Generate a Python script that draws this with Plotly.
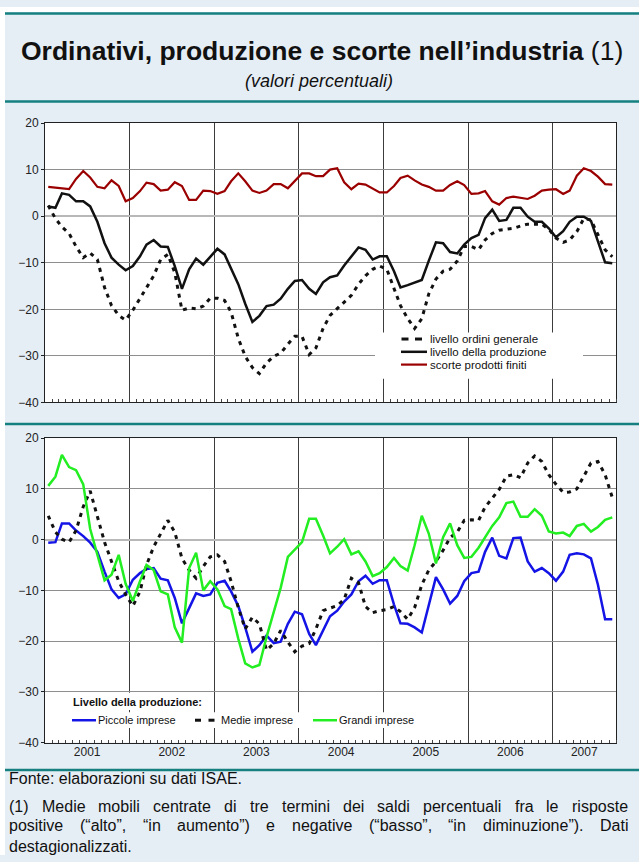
import plotly.graph_objects as go
import pandas as pd

W, H = 639, 862

# ---------------- data (monthly, Jan 2001 - Sep 2007) ----------------
months = pd.date_range("2001-01-01", periods=81, freq="MS") + pd.Timedelta(days=14)

ordini_generale = [2.3, -0.5, -2.3, -3.7, -6.5, -8.9, -7.9, -9.3, -15.3, -19.2, -21.3, -22.3,
                   -20.2, -17.7, -15.6, -12.8, -9.3, -8.2, -12.1, -20.2, -19.7, -19.9, -19.3, -17.6,
                   -17.6, -18.1, -20.6, -26.2, -30.1, -32.5, -33.8, -31.5, -30.1, -29.4, -27.5, -25.8,
                   -25.8, -29.7, -28.3, -24.1, -21.3, -19.9, -18.5, -17.0, -14.6, -12.8, -11.4, -10.7,
                   -11.4, -15.6, -19.2, -22.0, -24.1, -22.0, -16.7, -13.5, -11.8, -11.4, -9.6, -6.5,
                   -6.5, -7.2, -5.1, -3.7, -3.0, -2.8, -2.6, -2.1, -1.7, -1.7, -1.7, -2.8,
                   -4.7, -5.6, -5.1, -3.3, -0.5, -0.8, -4.0, -7.2, -8.7]

produzione = [2.1, 1.8, 4.9, 4.6, 3.2, 3.2, 2.1, -1.2, -5.8, -8.9, -10.4, -11.6,
              -10.7, -8.6, -6.1, -5.1, -6.5, -6.6, -10.7, -15.6, -11.4, -9.1, -10.4, -8.7,
              -7.0, -8.2, -11.1, -14.6, -18.8, -22.7, -21.4, -19.3, -19.0, -17.7, -15.6, -13.9,
              -13.7, -15.6, -16.7, -14.2, -13.1, -12.7, -10.6, -8.6, -6.7, -7.2, -9.3, -8.6,
              -8.6, -11.8, -15.3, -14.8, -14.2, -13.7, -9.6, -5.6, -5.8, -7.7, -8.0, -6.1,
              -4.7, -4.0, -0.4, 1.4, -1.0, -0.8, 1.8, 1.8, -0.1, -1.2, -1.2, -2.6,
              -4.5, -3.2, -1.2, -0.1, -0.1, -1.0, -5.4, -9.9, -10.1]

scorte = [6.3, 6.1, 6.0, 5.8, 8.0, 9.7, 8.3, 6.3, 6.0, 7.7, 6.5, 3.2,
          3.9, 5.4, 7.2, 6.9, 5.5, 5.7, 7.3, 6.5, 3.5, 3.5, 5.5, 5.4,
          4.8, 5.4, 7.5, 9.2, 7.5, 5.5, 5.0, 5.5, 6.9, 6.9, 6.0, 7.5,
          9.2, 9.2, 8.6, 8.6, 10.0, 10.3, 7.3, 5.8, 7.0, 6.8, 6.0, 5.1,
          5.1, 6.5, 8.2, 8.7, 7.7, 6.8, 6.3, 5.5, 5.5, 6.7, 7.5, 6.7,
          4.8, 4.9, 5.4, 3.2, 2.5, 3.9, 4.2, 3.9, 3.7, 4.4, 5.5, 5.7,
          5.8, 4.8, 5.5, 8.7, 10.3, 9.7, 8.5, 6.9, 6.8]

piccole = [-0.6, -0.5, 3.2, 3.2, 1.8, 0.7, -0.6, -2.4, -6.3, -9.8, -11.5, -10.8,
           -7.9, -6.6, -5.8, -5.6, -7.7, -8.0, -11.5, -16.5, -13.5, -10.6, -11.1, -10.8,
           -8.5, -8.1, -10.2, -13.1, -17.3, -22.1, -20.8, -18.9, -20.4, -20.1, -16.6, -14.2,
           -14.7, -18.6, -20.8, -17.9, -15.1, -14.0, -12.2, -10.8, -8.2, -7.1, -8.7, -8.0,
           -8.0, -12.8, -16.5, -16.6, -17.3, -18.3, -12.8, -7.4, -9.8, -12.6, -11.1, -8.2,
           -6.6, -6.3, -2.4, 0.4, -3.2, -3.7, 0.3, 0.4, -4.3, -6.3, -5.6, -6.6,
           -8.1, -6.3, -3.0, -2.7, -2.9, -3.7, -8.9, -15.7, -15.7]

medie = [4.7, 1.5, 0.1, -0.5, 1.8, 6.5, 9.6, 4.7, -0.5, -4.3, -8.2, -10.8,
         -13.1, -10.2, -5.0, -1.4, 1.2, 3.8, 1.5, -3.7, -6.0, -7.6, -5.3, -3.4,
         -3.0, -4.3, -8.2, -13.4, -17.6, -15.3, -16.6, -21.8, -20.5, -17.9, -20.2, -22.1,
         -21.0, -20.5, -17.6, -14.0, -13.5, -13.0, -11.8, -7.6, -8.5, -13.2, -14.4, -14.0,
         -13.8, -13.2, -14.2, -15.7, -13.4, -8.9, -6.0, -4.3, -2.1, 0.4, 1.5, 3.8,
         3.9, 3.8, 6.4, 8.3, 9.9, 12.5, 12.8, 12.2, 15.1, 16.5, 15.4, 12.8,
         10.9, 9.3, 9.4, 10.0, 12.5, 15.1, 15.4, 12.8, 8.3]

grandi = [10.6, 12.4, 16.7, 14.3, 13.7, 10.9, 2.1, -3.0, -8.0, -6.9, -3.0, -8.7,
          -12.1, -8.2, -5.0, -6.0, -10.2, -10.8, -17.3, -20.3, -5.6, -2.6, -10.0, -8.2,
          -9.8, -13.1, -13.7, -19.5, -24.4, -25.2, -24.7, -19.2, -14.4, -9.5, -3.4, -1.9,
          -0.5, 4.1, 4.1, 0.8, -2.7, -1.4, 0.1, -2.9, -2.3, -4.3, -7.2, -6.6,
          -5.4, -3.6, -5.2, -6.1, -1.1, 4.7, 1.2, -4.7, 0.5, 3.2, -1.1, -3.6,
          -3.4, -1.6, 0.5, 2.7, 4.4, 7.2, 7.5, 4.5, 4.5, 6.0, 4.7, 1.6,
          1.2, 1.4, 0.7, 2.7, 3.1, 1.6, 2.5, 3.9, 4.4]

y_ticks = [-40, -30, -20, -10, 0, 10, 20]
year_labels = ["2001", "2002", "2003", "2004", "2005", "2006", "2007"]
year_label_dates = ["2001-07-02", "2002-07-02", "2003-07-02", "2004-07-02",
                    "2005-07-02", "2006-07-02", "2007-05-17"]

top_names = ["livello ordini generale", "livello della produzione", "scorte prodotti finiti"]
bottom_title = "Livello della produzione:"
bottom_names = ["Piccole imprese", "Medie imprese", "Grandi imprese"]

# ---------------- styles ----------------
FONT = "Liberation Sans, Arial, sans-serif"
BG = "#E6EEF5"
TEAL = "#15807F"
C_BLACK = "#111111"
C_RED = "#9B0000"
C_BLUE = "#1414E6"
C_GREEN = "#22EE22"
DASH = "4px,5px"

def px(x):
    return x / W

def py(y):
    return 1 - y / H

XL, XR = 45, 616
TOP_T, TOP_B = 118, 402
BOT_T, BOT_B = 438.3, 747.7
X_RANGE = ["2001-01-01", "2007-10-01"]

fig = go.Figure()

def add(y, xa, ya, color, width, dash=None, name=""):
    fig.add_trace(go.Scatter(x=months, y=y, mode="lines", name=name, showlegend=False,
                             line=dict(color=color, width=width, dash=dash),
                             xaxis=xa, yaxis=ya, hoverinfo="skip"))

add(ordini_generale, "x", "y", C_BLACK, 3, DASH, top_names[0])
add(produzione, "x", "y", C_BLACK, 2.5, None, top_names[1])
add(scorte, "x", "y", C_RED, 2.2, None, top_names[2])
add(piccole, "x2", "y2", C_BLUE, 2.5, None, bottom_names[0])
add(medie, "x2", "y2", C_BLACK, 3, DASH, bottom_names[1])
add(grandi, "x2", "y2", C_GREEN, 2.5, None, bottom_names[2])
# carrier trace (no marks) for the year-label axis
fig.add_trace(go.Scatter(x=[], y=[], xaxis="x3", yaxis="y2", showlegend=False, hoverinfo="skip"))

xcommon = dict(type="date", range=X_RANGE, tick0="2001-01-01", dtick="M12",
               showgrid=True, gridcolor="#3c3c3c", gridwidth=1,
               showline=True, linecolor="#222", linewidth=1, mirror=True, zeroline=False,
               ticks="", fixedrange=True, domain=[px(XL), px(XR)], showticklabels=False,
               minor=dict(dtick="M1", tick0="2001-01-01", ticks="inside", ticklen=3,
                          tickcolor="#444", tickwidth=1, showgrid=False))
ycommon = dict(range=[-40, 20], tickvals=y_ticks, showgrid=True, gridcolor="#8e8e8e", gridwidth=1,
               showline=True, linecolor="#222", linewidth=1, mirror=True,
               ticks="outside", ticklen=3, tickcolor="#222",
               tickfont=dict(family=FONT, size=12, color="#222"),
               zeroline=True, zerolinecolor="#b8b8b8", zerolinewidth=2, fixedrange=True)

fig.update_layout(
    width=W, height=H, autosize=False,
    margin=dict(l=0, r=0, t=0, b=0),
    paper_bgcolor=BG, plot_bgcolor="white",
    font=dict(family=FONT, color="#111"),
    showlegend=False,
    xaxis=dict(xcommon, anchor="y"),
    yaxis=dict(ycommon, anchor="x", domain=[py(TOP_B), py(TOP_T)]),
    xaxis2=dict(xcommon, anchor="y2"),
    yaxis2=dict(ycommon, anchor="x2", domain=[py(BOT_B), py(BOT_T)]),
    xaxis3=dict(type="date", range=X_RANGE, overlaying="x2", anchor="y2", side="bottom",
                tickvals=year_label_dates, ticktext=year_labels, showgrid=False, showline=False,
                zeroline=False, ticks="", fixedrange=True,
                tickfont=dict(family=FONT, size=12, color="#222")),
)

shapes = []
# white outer margin strips
shapes.append(dict(type="rect", xref="paper", yref="paper", x0=0, x1=px(5), y0=0, y1=1,
                   fillcolor="white", line=dict(width=0), layer="above"))
shapes.append(dict(type="rect", xref="paper", yref="paper", x0=0, x1=1, y0=py(5), y1=1,
                   fillcolor="white", line=dict(width=0), layer="above"))
# teal separators
for yy in [6.5, 96, 424, 775.5]:
    shapes.append(dict(type="line", xref="paper", yref="paper", x0=px(5), x1=1, y0=py(yy), y1=py(yy),
                       line=dict(color=TEAL, width=2.5), layer="above"))

def rect(x0, y0, x1, y1):
    shapes.append(dict(type="rect", xref="paper", yref="paper", x0=px(x0), x1=px(x1),
                       y0=py(y1), y1=py(y0), fillcolor="white", line=dict(width=0), layer="above"))

def seg(x0, x1, y, color, width):
    shapes.append(dict(type="line", xref="paper", yref="paper", x0=px(x0), x1=px(x1),
                       y0=py(y), y1=py(y), line=dict(color=color, width=width), layer="above"))

# top legend (rows spread slightly so the labels do not collide)
ROWS = [337.5, 350.5, 363.5]
rect(375, 331, 583, 378)
seg(401.5, 408.5, ROWS[0], C_BLACK, 3)
seg(415, 422, ROWS[0], C_BLACK, 3)
seg(401, 427, ROWS[1], C_BLACK, 2.5)
seg(401, 427, ROWS[2], C_RED, 2.2)
# bottom legend
rect(70, 697, 203, 714.5)
rect(70, 717, 418, 733)
seg(72, 96, 725, C_BLUE, 2.5)
seg(195, 201, 725, C_BLACK, 3)
seg(208.5, 214.5, 725, C_BLACK, 3)
seg(313, 337, 725, C_GREEN, 2.5)

annotations = []

def text(x, y, s, size, anchor="left", color="#111", bold=False, italic=False):
    annotations.append(dict(xref="paper", yref="paper", x=px(x), y=py(y), text=(f"<b>{s}</b>" if bold else s),
                            showarrow=False, xanchor=anchor, yanchor="middle", borderpad=0,
                            font=dict(family=FONT, size=size, color=color,
                                      style="italic" if italic else "normal")))

for r, name in zip(ROWS, top_names):
    text(429, r, name, 11.5)
text(72, 706, bottom_title, 11, bold=True)
text(97, 725, bottom_names[0], 11)
text(220, 725, bottom_names[1], 11)
text(338, 725, bottom_names[2], 11)

# header
text(322, 45, "<b>Ordinativi, produzione e scorte nell’industria</b> (1)", 26.5, anchor="center")
text(319, 75, "(valori percentuali)", 18, anchor="center", italic=True)

# footer (justified)
AW = {' ': 278, '(': 333, ')': 333, ',': 278, '.': 278, ':': 278, '-': 333, '1': 556,
      'A': 667, 'D': 722, 'E': 667, 'F': 611, 'I': 278, 'M': 833, 'S': 667,
      'a': 556, 'b': 556, 'c': 500, 'd': 556, 'e': 556, 'f': 278, 'g': 556, 'h': 556, 'i': 222,
      'j': 222, 'k': 500, 'l': 222, 'm': 833, 'n': 556, 'o': 556, 'p': 556, 'q': 556, 'r': 333,
      's': 500, 't': 278, 'u': 556, 'v': 500, 'w': 722, 'x': 500, 'y': 500, 'z': 500,
      '“': 333, '”': 333, '’': 222}
FS = 16

def tw(s):
    return sum(AW.get(c, 556) for c in s) / 1000 * FS

def justify(line, y, x0=8, x1=627):
    words = line.split(" ")
    widths = [tw(w) for w in words]
    gap = (x1 - x0 - sum(widths)) / (len(words) - 1)
    x = x0
    for w, wd in zip(words, widths):
        text(x, y, w, FS)
        x += wd + gap

text(8, 784.5, "Fonte: elaborazioni su dati ISAE.", FS)
justify("(1) Medie mobili centrate di tre termini dei saldi percentuali fra le risposte", 812.5)
justify("positive (“alto”, “in aumento”) e negative (“basso”, “in diminuzione”). Dati", 832.5)
text(8, 853, "destagionalizzati.", FS)

fig.update_layout(shapes=shapes, annotations=annotations)
fig.write_html("out.html", config={"displayModeBar": False, "staticPlot": True},
               post_script="document.body.style.margin='0';document.body.style.overflow='hidden';")
